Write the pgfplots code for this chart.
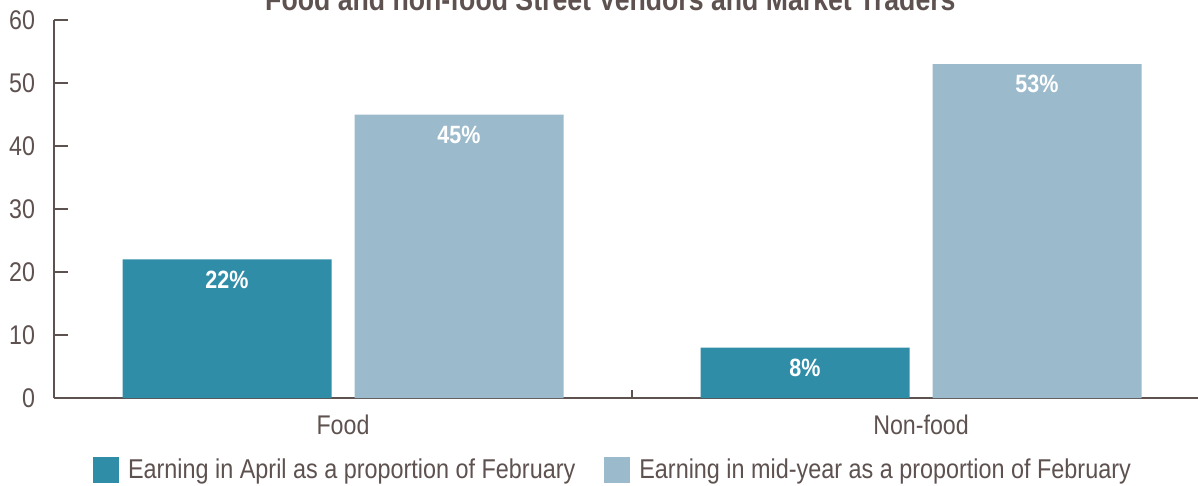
\documentclass[border=0pt]{standalone}
\usepackage{pgfplots}
\pgfplotsset{compat=1.18}
\usepackage{fontspec}
\setmainfont[FakeStretch=0.86]{Liberation Sans}
\definecolor{tealc}{RGB}{47,141,168}
\definecolor{lightc}{RGB}{155,186,204}
\definecolor{txt}{RGB}{94,82,80}
\begin{document}
\begin{tikzpicture}
\begin{axis}[
  at={(0,0)}, anchor=south west,
  scale only axis, width=578pt, height=189pt,
  xmin=-0.5, xmax=1.5, ymin=0, ymax=60,
  axis lines=left, axis line style={-, txt, line width=1pt},
  ytick={0,10,...,60},
  ytick style={txt, line width=1pt},
  major tick length=7pt, tick align=inside,
  xtick={0,1}, xticklabels={Food,Non-food},
  xtick style={draw=none},
  extra x ticks={0.5}, extra x tick labels={},
  extra x tick style={tick align=inside, xtick style={draw=txt, line width=0.6pt}, major tick length=4pt},
  tick label style={font=\fontsize{13.5}{15}\selectfont, text=txt},
  /pgf/number format/assume math mode=true,
  yticklabel style={xshift=-6pt},
  xticklabel style={yshift=2pt},
  ybar=11.5pt, bar width=104.5pt,
  nodes near coords={\pgfmathprintnumber{\pgfplotspointmeta}\%},
  every node near coord/.append style={anchor=north, inner sep=0pt, yshift=-5.5pt, text=white, font=\bfseries\fontsize{12.5}{14}\selectfont},
  legend style={at={(0.4844,-0.19)}, anchor=center, draw=none, legend columns=2,
    font=\fontsize{13.6}{15}\selectfont, text=txt,
    /tikz/every odd column/.append style={column sep=2.5pt},
    /tikz/every even column/.append style={column sep=12.5pt}},
  legend image code/.code={\fill[#1] (0pt,-6.5pt) rectangle (13pt,6.5pt);},
  clip=false,
]
\addplot[fill=tealc, draw=none] coordinates {(0,22) (1,8)};
\addplot[fill=lightc, draw=none] coordinates {(0,45) (1,53)};
\legend{Earning in April as a proportion of February, Earning in mid-year as a proportion of February}
\node[anchor=base, text=txt, font=\bfseries\fontsize{15.5}{17}\selectfont] at (rel axis cs:0.4813,1) [yshift=5pt] {Food and non-food Street Vendors and Market Traders};
\end{axis}
\pgfresetboundingbox
\useasboundingbox (-27pt,-44pt) rectangle (572pt,199pt);
\end{tikzpicture}
\end{document}
